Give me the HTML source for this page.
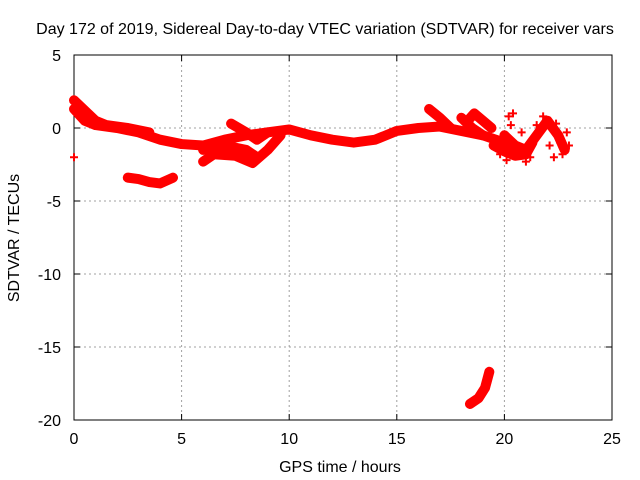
<!DOCTYPE html>
<html><head><meta charset="utf-8"><style>
body{margin:0;background:#fff}
svg{display:block;font-family:"Liberation Sans",sans-serif;font-size:16px}
</style></head><body>
<svg id="chart" width="640" height="480"></svg>
<script>
const xTicks=[0,5,10,15,20,25];
const yTicks=[5,0,-5,-10,-15,-20];
const trackMain=[[0,1.3],[0.5,0.5],[1,0.2],[2,0],[3,-0.3],[4,-0.8],[5,-1.1],[6,-1.2],[7,-0.8],[8,-0.5],[9,-0.3],[10,-0.1],[11,-0.5],[12,-0.8],[13,-1],[14,-0.8],[15,-0.2],[16,0],[17,0.1],[18,-0.2],[19,-0.5],[20,-1],[20.5,-1.5]];
const trackUpper=[[0,1.9],[0.5,1.2],[1,0.5],[1.5,0.2],[2.5,0],[3.5,-0.3]];
const trackLoopLow=[[6,-2.3],[6.5,-1.8],[7.5,-1.9],[8.3,-2.4],[9,-1.5],[9.6,-0.5]];
const trackLoopUp=[[7.3,0.3],[8,-0.3],[8.5,-0.8],[9,-0.3]];
const trackLoopMid=[[6,-1.5],[7,-1.2],[8,-1.5],[8.5,-2]];
const trackLow=[[2.5,-3.4],[3,-3.5],[3.5,-3.7],[4,-3.8],[4.6,-3.4]];
const trackDeep=[[18.4,-18.9],[18.8,-18.5],[19.1,-17.8],[19.3,-16.7]];
const trackRight=[[20,-0.5],[20.5,-1.2],[21,-1.5],[21.5,-0.5],[22,0.5],[22.5,-0.5],[22.8,-1.5]];
const trackLowRight=[[19.5,-1.2],[20,-1.6],[20.5,-1.9],[21,-1.8],[21.3,-1]];
const trackPeak=[[16.5,1.3],[17,0.7],[17.5,0]];
const trackPeak2=[[18,0.7],[18.5,0],[19,-0.5]];
const trackLoop18=[[18.3,0.5],[18.6,1],[19,0.5],[19.4,0]];
const spikes=[[0,-2],[20.2,0.8],[20.4,1],[20.3,0.2],[21.8,0.8],[22.1,-1.2],[22.3,-2],[22.6,-1],[23,-1.2],[22.9,-0.3],[21.2,-2],[19.8,-1.8],[20.8,-0.3],[21.5,0.2],[22.4,0.3],[22.7,-1.8],[20.1,-2.2],[21,-2.3]];
const tracks=[trackMain,trackUpper,trackLoopLow,trackLoopUp,trackLoopMid,trackLow,trackDeep,trackRight,trackLowRight,trackPeak,trackPeak2,trackLoop18];
const X0=74,X1=612,Y0=55,Y1=420;
const xs=h=>X0+(h-0)/25*(X1-X0);
const ys=v=>Y0+(5-v)/25*(Y1-Y0);
const svg=document.getElementById('chart');
const NS='http://www.w3.org/2000/svg';
function mk(t,a){const e=document.createElementNS(NS,t);for(const k in a)e.setAttribute(k,a[k]);svg.appendChild(e);return e;}
xTicks.forEach(t=>{
 if(t>0&&t<25){const g=mk('line',{x1:xs(t),x2:xs(t),y1:Y0,y2:Y1,stroke:'#a0a0a0','stroke-dasharray':'2,3'});
 
 }
 const l=mk('text',{x:xs(t),y:Y1+24,'text-anchor':'middle'});l.textContent=t;
 
 
 mk('line',{x1:xs(t),x2:xs(t),y1:Y1,y2:Y1-6,stroke:'#000'});
 mk('line',{x1:xs(t),x2:xs(t),y1:Y0,y2:Y0+6,stroke:'#000'});
});
yTicks.forEach(t=>{
 if(t<5&&t>-20){const g=mk('line',{x1:X0,x2:X1,y1:ys(t),y2:ys(t),stroke:'#a0a0a0','stroke-dasharray':'2,3'});
 
 }
 const l=mk('text',{x:X0-13,y:ys(t)+6,'text-anchor':'end'});l.textContent=t;
 
 
 mk('line',{x1:X0,x2:X0+6,y1:ys(t),y2:ys(t),stroke:'#000'});
 mk('line',{x1:X1,x2:X1-6,y1:ys(t),y2:ys(t),stroke:'#000'});
});
const fr=mk('rect',{x:X0,y:Y0,width:X1-X0,height:Y1-Y0,fill:'none',stroke:'#000'});


tracks.forEach(tr=>{
 const p=mk('polyline',{points:tr.map(d=>xs(d[0])+','+ys(d[1])).join(' '),fill:'none',stroke:'#ff0000','stroke-width':10,'stroke-linejoin':'round','stroke-linecap':'round'});
 
 
});
spikes.forEach(d=>{
 const p=mk('path',{d:`M${xs(d[0])-4},${ys(d[1])}h8M${xs(d[0])},${ys(d[1])-4}v8`,stroke:'#ff0000','stroke-width':2});
 
 
});
const t=mk('text',{x:325,y:34,'text-anchor':'middle'});t.textContent='Day 172 of 2019, Sidereal Day-to-day VTEC variation (SDTVAR) for receiver vars';


const xl=mk('text',{x:340,y:472,'text-anchor':'middle'});xl.textContent='GPS time / hours';


const yl=mk('text',{x:0,y:0,'text-anchor':'middle',transform:'translate(19,238) rotate(-90)'});yl.textContent='SDTVAR / TECUs';


</script>
</body></html>
